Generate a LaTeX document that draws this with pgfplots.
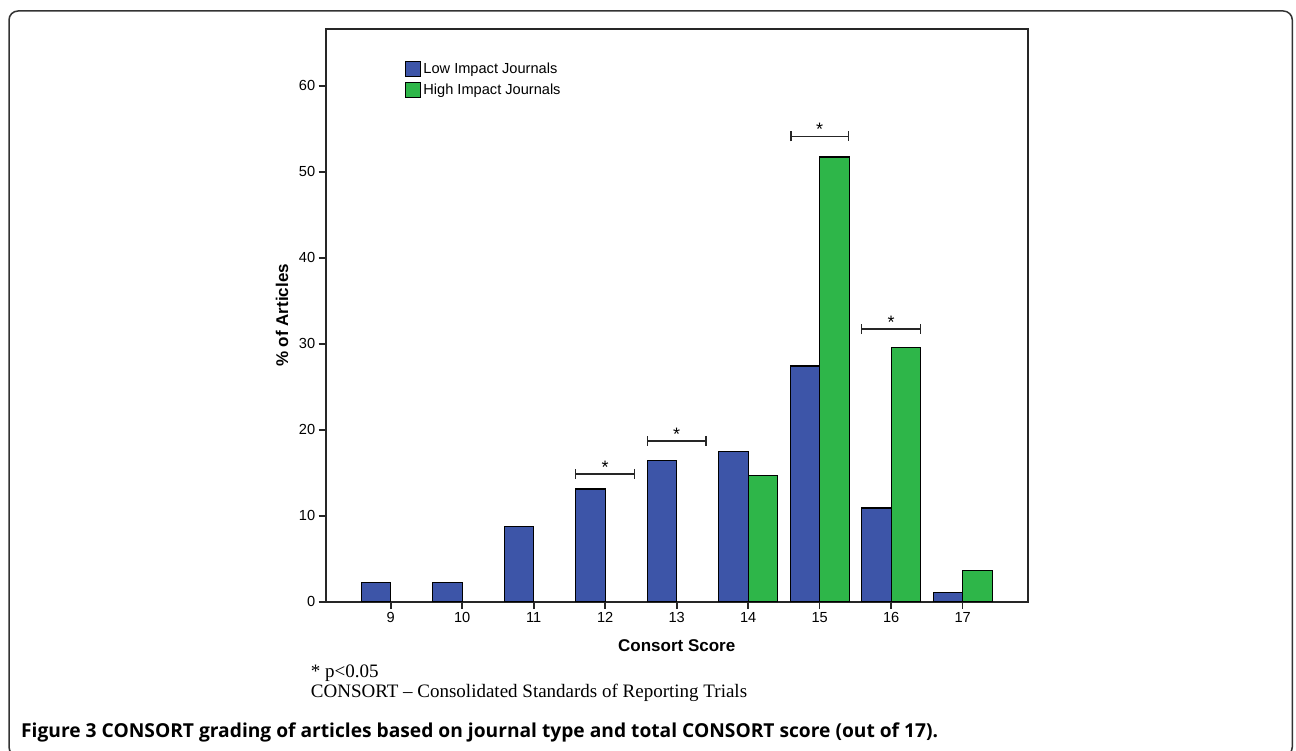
\documentclass[border=0pt]{standalone}
\usepackage{fontspec}
\setmainfont{Liberation Sans}
\newfontfamily\serifont{Liberation Serif}
\newfontfamily\capfont{Open Sans}
\usepackage{pgfplots}
\pgfplotsset{compat=1.18}
\usetikzlibrary{arrows.meta}
\definecolor{lowblue}{RGB}{61,85,168}
\definecolor{highgreen}{RGB}{46,182,73}
\begin{document}
\begin{tikzpicture}[x=1pt,y=1pt]
\useasboundingbox (0,0) rectangle (1296,750);
\draw[line width=1.5pt, black!80, rounded corners=9pt] (9,-6) rectangle (1292.3,739);
\begin{axis}[
  at={(325.7pt,148.3pt)}, anchor=south west,
  scale only axis, width=702pt, height=572.4pt,
  xmin=8.09, xmax=17.91, ymin=0, ymax=66.56,
  xtick={9,...,17}, ytick={0,10,...,60},
  tick pos=left, tick align=outside,
  major tick length=7pt,
  axis line style={line width=1.6pt, black!85},
  tick style={line width=1.6pt, black!85},
  tick label style={font=\fontsize{14.6}{16}\selectfont},
  /pgf/number format/assume math mode=true,
  bar width=29.5pt,
  xlabel={Consort Score}, ylabel={\% of Articles},
  label style={font=\bfseries\fontsize{17}{19}\selectfont},
  xlabel style={at={(axis description cs:0.5,0)}, anchor=base, yshift=-49.3pt},
  ylabel style={at={(axis description cs:0,0.5)}, anchor=base, yshift=37.7pt},
  legend style={at={(0.113,0.945)}, anchor=north west, draw=none, fill=none, inner sep=0pt, row sep=4.5pt, font=\fontsize{14.6}{16}\selectfont, cells={anchor=west}, /tikz/every even column/.append style={column sep=3pt}},
]
\addplot[ybar, bar shift=-14.75pt, fill=lowblue, draw=black, line width=1.2pt, forget plot] coordinates {(9,2.2) (10,2.2) (11,8.7) (12,13.1) (13,16.4) (14,17.5) (15,27.4) (16,10.9) (17,1.1)};
\addplot[ybar, bar shift=14.75pt, fill=highgreen, draw=black, line width=1.2pt, forget plot] coordinates {(14,14.7) (15,51.7) (16,29.6) (17,3.6)};
\addlegendimage{legend image code/.code={\draw[fill=lowblue, draw=black, line width=1.2pt] (0pt,-7.5pt) rectangle (15pt,7.5pt);}}
\addlegendentry{Low Impact Journals}
\addlegendimage{legend image code/.code={\draw[fill=highgreen, draw=black, line width=1.2pt] (0pt,-7.5pt) rectangle (15pt,7.5pt);}}
\addlegendentry{High Impact Journals}
\addplot[black!85, line width=1.3pt, {Bar[width=10pt]}-{Bar[width=10pt]}, forget plot] coordinates {(11.58,14.85) (12.42,14.85)} node[pos=0.5, above, inner sep=0pt, font=\fontsize{18}{18}\selectfont, text=black] {*};
\addplot[black!85, line width=1.3pt, {Bar[width=10pt]}-{Bar[width=10pt]}, forget plot] coordinates {(12.58,18.7) (13.42,18.7)} node[pos=0.5, above, inner sep=0pt, font=\fontsize{18}{18}\selectfont, text=black] {*};
\addplot[black!85, line width=1.3pt, {Bar[width=10pt]}-{Bar[width=10pt]}, forget plot] coordinates {(14.59,54.1) (15.41,54.1)} node[pos=0.5, above, inner sep=0pt, font=\fontsize{18}{18}\selectfont, text=black] {*};
\addplot[black!85, line width=1.3pt, {Bar[width=10pt]}-{Bar[width=10pt]}, forget plot] coordinates {(15.58,31.7) (16.42,31.7)} node[pos=0.5, above, inner sep=0pt, font=\fontsize{18}{18}\selectfont, text=black] {*};
\end{axis}
\node[anchor=base west, inner sep=0pt, font=\serifont\fontsize{19}{19}\selectfont] at (310.7,73) {* p<0.05};
\node[anchor=base west, inner sep=0pt, font=\serifont\fontsize{19}{19}\selectfont] at (310.7,52.3) {CONSORT – Consolidated Standards of Reporting Trials};
\node[anchor=base west, inner sep=0pt, font=\capfont\bfseries\fontsize{19.2}{20}\selectfont] at (21,12.3) {Figure 3 CONSORT grading of articles based on journal type and total CONSORT score (out of 17).};
\end{tikzpicture}
\end{document}
